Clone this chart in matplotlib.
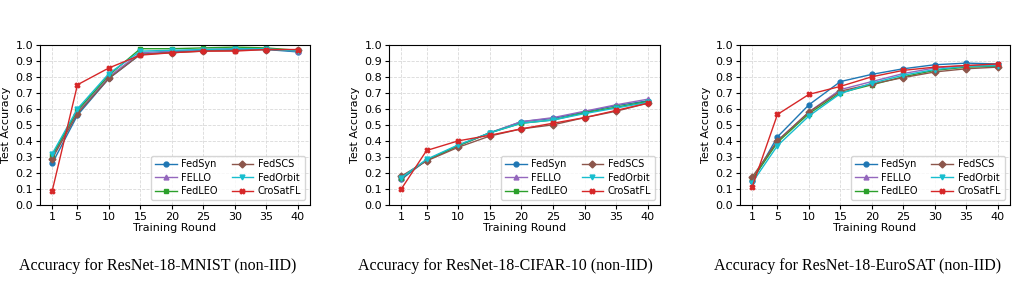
import numpy as np
import matplotlib
matplotlib.use("Agg")
import matplotlib.pyplot as plt

rounds = [1, 5, 10, 15, 20, 25, 30, 35, 40]
methods = ["FedSyn", "FELLO", "FedLEO", "FedSCS", "FedOrbit", "CroSatFL"]
colors = ["#1f77b4", "#9467bd", "#2ca02c", "#8c564b", "#17becf", "#d62728"]
markers = ["o", "^", "s", "D", "v", "X"]

# MNIST (non-IID)
mnist_fedsyn = [0.26, 0.56, 0.79, 0.94, 0.955, 0.965, 0.97, 0.97, 0.955]
mnist_fello = [0.30, 0.58, 0.80, 0.95, 0.96, 0.97, 0.975, 0.975, 0.96]
mnist_fedleo = [0.31, 0.59, 0.81, 0.975, 0.975, 0.98, 0.985, 0.98, 0.965]
mnist_fedscs = [0.29, 0.57, 0.79, 0.94, 0.95, 0.96, 0.965, 0.97, 0.965]
mnist_fedorbit = [0.32, 0.60, 0.82, 0.96, 0.965, 0.97, 0.975, 0.975, 0.96]
mnist_crosatfl = [0.09, 0.75, 0.855, 0.935, 0.95, 0.96, 0.96, 0.97, 0.97]

# CIFAR-10 (non-IID)
cifar_fedsyn = [0.16, 0.28, 0.37, 0.45, 0.52, 0.54, 0.58, 0.62, 0.65]
cifar_fello = [0.17, 0.28, 0.37, 0.45, 0.52, 0.545, 0.585, 0.625, 0.66]
cifar_fedleo = [0.17, 0.28, 0.37, 0.45, 0.51, 0.53, 0.575, 0.61, 0.645]
cifar_fedscs = [0.18, 0.275, 0.36, 0.43, 0.475, 0.50, 0.545, 0.585, 0.635]
cifar_fedorbit = [0.17, 0.285, 0.375, 0.45, 0.51, 0.53, 0.57, 0.605, 0.64]
cifar_crosatfl = [0.10, 0.34, 0.40, 0.435, 0.475, 0.51, 0.545, 0.59, 0.635]

# EuroSAT (non-IID)
euro_fedsyn = [0.15, 0.425, 0.625, 0.77, 0.815, 0.85, 0.875, 0.885, 0.88]
euro_fello = [0.16, 0.40, 0.58, 0.72, 0.77, 0.82, 0.855, 0.87, 0.875]
euro_fedleo = [0.16, 0.39, 0.57, 0.70, 0.75, 0.80, 0.84, 0.86, 0.865]
euro_fedscs = [0.175, 0.40, 0.58, 0.71, 0.755, 0.795, 0.83, 0.85, 0.86]
euro_fedorbit = [0.14, 0.37, 0.555, 0.695, 0.76, 0.81, 0.845, 0.865, 0.87]
euro_crosatfl = [0.115, 0.565, 0.69, 0.74, 0.80, 0.84, 0.86, 0.87, 0.88]

panels = [
    [mnist_fedsyn, mnist_fello, mnist_fedleo, mnist_fedscs, mnist_fedorbit, mnist_crosatfl],
    [cifar_fedsyn, cifar_fello, cifar_fedleo, cifar_fedscs, cifar_fedorbit, cifar_crosatfl],
    [euro_fedsyn, euro_fello, euro_fedleo, euro_fedscs, euro_fedorbit, euro_crosatfl],
]
captions = ["Accuracy for ResNet-18-MNIST (non-IID)",
            "Accuracy for ResNet-18-CIFAR-10 (non-IID)",
            "Accuracy for ResNet-18-EuroSAT (non-IID)"]

W, H = 1017, 281
fig = plt.figure(figsize=(W / 100, H / 100), dpi=100)

# axes boxes in pixels: left, right
boxes = [(40, 310), (389, 660), (740, 1010)]
top, bottom = 44.7, 205
cap_x = [158, 505, 858]

for i, series in enumerate(panels):
    l, r = boxes[i]
    ax = fig.add_axes([l / W, 1 - bottom / H, (r - l) / W, (bottom - top) / H])
    for name, vals, c, m in zip(methods, series, colors, markers):
        ax.plot(rounds, vals, color=c, marker=m, markersize=3.5, linewidth=1.0, label=name)
    ax.set_ylim(0, 1.0)
    ax.set_xticks(rounds)
    ax.set_yticks(np.arange(0, 1.01, 0.1))
    ax.set_yticklabels([f"{v:.1f}" for v in np.arange(0, 1.01, 0.1)])
    ax.tick_params(labelsize=8, length=3, pad=2)
    ax.grid(True, linestyle="--", linewidth=0.6, color="#d9d9d9")
    ax.set_xlabel("Training Round", fontsize=8, labelpad=1)
    ax.set_ylabel("Test Accuracy", fontsize=8, labelpad=3)
    ax.legend(loc="lower right", ncol=2, fontsize=7, handlelength=2.2,
              columnspacing=1.4, labelspacing=0.35, borderpad=0.4,
              handletextpad=0.5)
    fig.text(cap_x[i] / W, 1 - 266 / H, captions[i], ha="center", va="center",
             fontsize=11.5, family="Liberation Serif")

fig.savefig("out.png", dpi=100)
